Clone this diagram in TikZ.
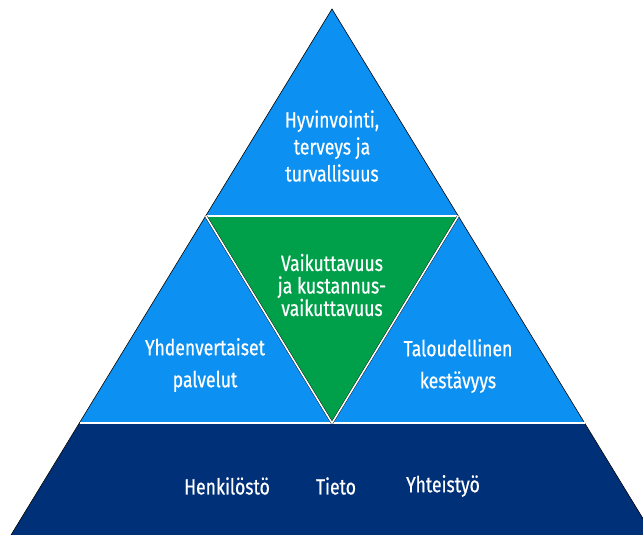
\documentclass[tikz,border=0pt]{standalone}
\usepackage{fontspec}
\setmainfont[FakeStretch=0.8, FakeBold=0.6]{Fira Sans}
\usetikzlibrary{calc}
\definecolor{skyblue}{RGB}{12,144,242}
\definecolor{leafgreen}{RGB}{0,160,75}
\definecolor{navyblue}{RGB}{0,48,120}

\begin{document}
\begin{tikzpicture}[x=1pt,y=-1pt,
	lab/.style={text=white, align=center, inner sep=0, font=\fontsize{22}{27}\selectfont},
	sep/.style={draw=black, line width=0.4pt, double=white, double distance=1.6pt},
	rim/.style={draw=black, line width=0.6pt}]
	\useasboundingbox (0,0) rectangle (643,535);

	%corners of the pyramid
	\coordinate (apex) at (332,9);
	\coordinate (bl) at (11,535);
	\coordinate (br) at (653,535);
	\coordinate (ml) at (79.5,423);
	\coordinate (mr) at (584.5,423);
	\coordinate (gl) at ($(apex)!0.5!(ml)$);
	\coordinate (gr) at ($(apex)!0.5!(mr)$);
	\coordinate (gb) at ($(ml)!0.5!(mr)$);

	%areas
	\fill[skyblue] (apex) -- (ml) -- (mr) -- cycle;
	\fill[leafgreen] (gl) -- (gr) -- (gb) -- cycle;
	\fill[navyblue] (ml) -- (mr) -- (br) -- (bl) -- cycle;

	%outline and separators
	\draw[rim] (bl) -- (apex) -- (br);
	\draw[sep] (ml) -- (mr);
	\draw[sep] (gl) -- (gr);
	\draw[sep] (gl) -- (gb) -- (gr);

	%labels
	\node[lab] at (332,146) (top) {Hyvinvointi,\\terveys ja\\turvallisuus};
	\node[lab, font=\fontsize{22}{22.5}\selectfont] at (332,285) (mid) {Vaikuttavuus\\ja kustannus-\\vaikuttavuus};
	\node[lab, font=\fontsize{22}{32}\selectfont] at (205,365) (left) {Yhdenvertaiset\\palvelut};
	\node[lab, font=\fontsize{22}{32}\selectfont] at (458,366) (right) {Taloudellinen\\kestävyys};
	\node[lab] at (227,486) (b1) {Henkilöstö};
	\node[lab] at (336,486) (b2) {Tieto};
	\node[lab] at (443,486) (b3) {Yhteistyö};
\end{tikzpicture}
\end{document}
